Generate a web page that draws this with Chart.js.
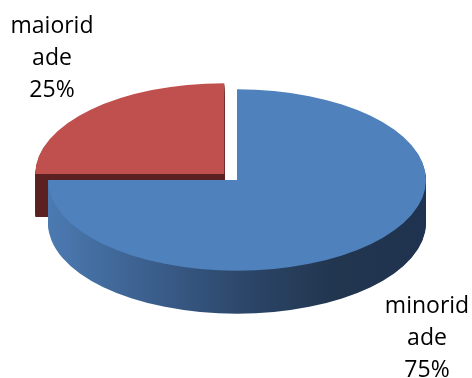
<!DOCTYPE html>
<html lang="pt">
<head>
<meta charset="UTF-8">
<title>maioridade / minoridade</title>
<script src="https://cdn.jsdelivr.net/npm/chart.js"></script>
<style>
  body { margin: 0; background: #fff; }
  #wrap { width: 472px; height: 378px; }
</style>
</head>
<body>
<div id="wrap"><canvas id="pie" width="472" height="378"></canvas></div>
<script>
// dados
const categories = ['minoridade', 'maioridade'];
const shares = [75, 25];
const topColors = ['#4f81bd', '#c0504d'];
const explode = [0, 72];

// aparência 3D
const TILT = 0.48;   // achatamento vertical do disco
const DEPTH = 43;    // espessura em px
const sideStops = [
  [[0, '#4b7ab2'], [0.5, '#2d486c'], [0.75, '#22364f'], [1, '#1f3350']],
  [[0, '#5a2120'], [1, '#5a2120']]
];
// onde ficam os rótulos, em relação ao centro da pizza
const labelPos = [{ dx: 190, dy: 133 }, { dx: -185, dy: -147 }];

function tilt(ctx, cx, cy) {
  ctx.translate(cx, cy);
  ctx.scale(1, TILT);
  ctx.translate(-cx, -cy);
}

function slicePath(ctx, el) {
  const off = (el.options.offset || 0) / 4;
  const mid = (el.startAngle + el.endAngle) / 2;
  const x = el.x + Math.cos(mid) * off;
  const y = el.y + Math.sin(mid) * off;
  ctx.beginPath();
  ctx.moveTo(x, y);
  ctx.arc(x, y, el.outerRadius, el.startAngle, el.endAngle);
  ctx.closePath();
}

const pie3d = {
  id: 'pie3d',
  beforeDatasetsDraw(chart) {
    const ctx = chart.ctx;
    const arcs = chart.getDatasetMeta(0).data;
    const cx = arcs[0].x, cy = arcs[0].y;
    // fatias de trás primeiro
    const order = arcs.map((a, i) => i).sort((a, b) => {
      const ma = Math.sin((arcs[a].startAngle + arcs[a].endAngle) / 2);
      const mb = Math.sin((arcs[b].startAngle + arcs[b].endAngle) / 2);
      return ma - mb;
    });
    order.forEach(i => {
      const el = arcs[i];
      const r = el.outerRadius;
      for (let d = DEPTH; d >= 1; d--) {
        ctx.save();
        ctx.translate(0, d);
        tilt(ctx, cx, cy);
        const g = ctx.createLinearGradient(cx - r, 0, cx + r, 0);
        sideStops[i].forEach(s => g.addColorStop(s[0], s[1]));
        ctx.fillStyle = g;
        slicePath(ctx, el);
        ctx.fill();
        ctx.restore();
      }
    });
    // a tampa é desenhada pela própria biblioteca, achatada
    ctx.save();
    tilt(ctx, cx, cy);
  },
  afterDatasetsDraw(chart) {
    chart.ctx.restore();
  },
  afterDraw(chart) {
    const ctx = chart.ctx;
    const arcs = chart.getDatasetMeta(0).data;
    const total = shares.reduce((a, b) => a + b, 0);
    ctx.save();
    ctx.font = '23px "Open Sans", sans-serif';
    ctx.fillStyle = '#000';
    ctx.textAlign = 'center';
    ctx.textBaseline = 'alphabetic';
    arcs.forEach((el, i) => {
      const name = categories[i];
      const lines = [name.slice(0, 7), name.slice(7), Math.round(shares[i] / total * 100) + '%'];
      const x = el.x + labelPos[i].dx;
      const y = el.y + labelPos[i].dy;
      lines.forEach((t, k) => ctx.fillText(t, x, y + k * 32));
    });
    ctx.restore();
  }
};

new Chart(document.getElementById('pie'), {
  type: 'pie',
  data: {
    labels: categories,
    datasets: [{
      data: shares,
      backgroundColor: topColors,
      borderWidth: 0,
      offset: explode,
      radius: 189,
      clip: false
    }]
  },
  options: {
    responsive: false,
    animation: false,
    events: [],
    layout: { padding: { left: 2, bottom: 18 } },
    plugins: {
      legend: { display: false },
      tooltip: { enabled: false }
    }
  },
  plugins: [pie3d]
});
</script>
</body>
</html>
